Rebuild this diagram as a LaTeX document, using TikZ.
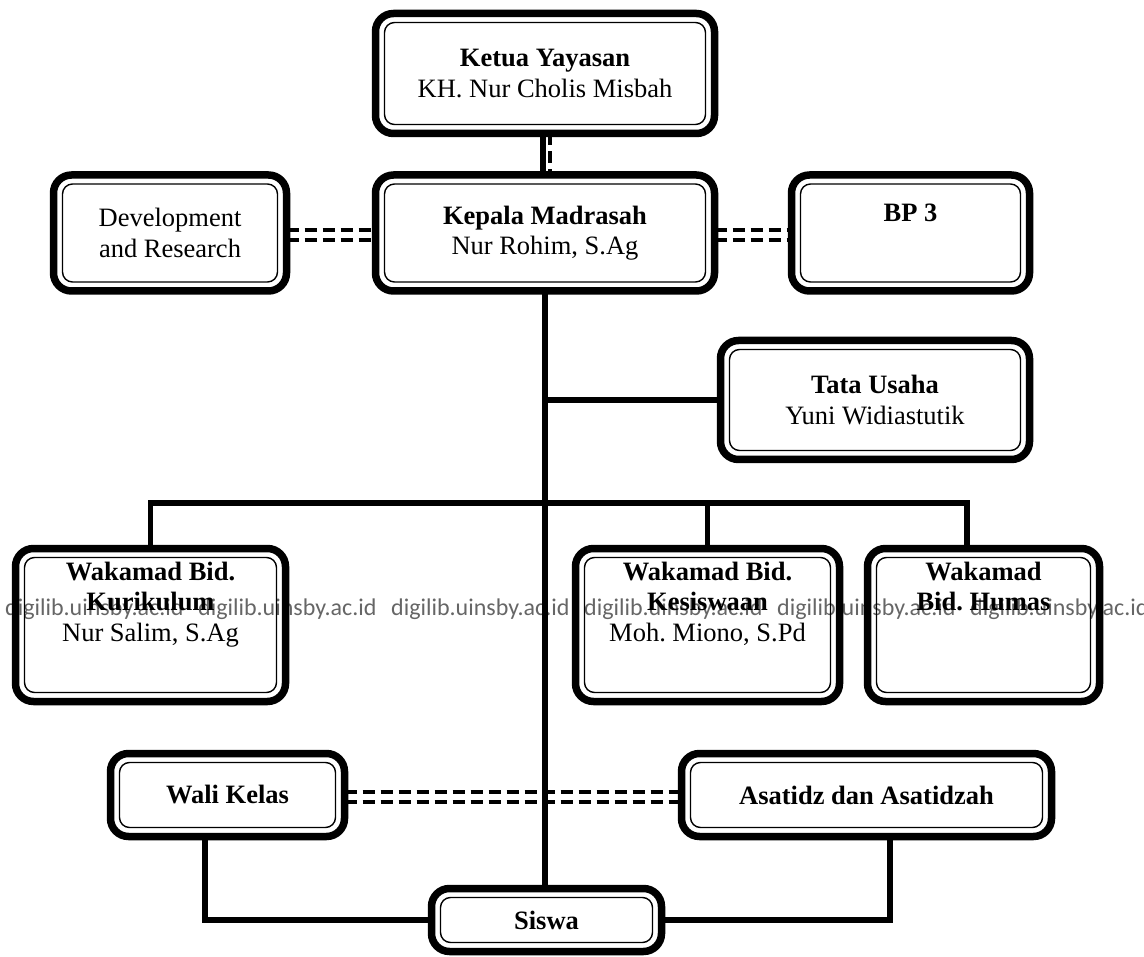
\documentclass[tikz,border=0pt]{standalone}
\usepackage{fontspec}
\setmainfont{Liberation Serif}
\newfontfamily\wmfont{Carlito}
\frenchspacing
\begin{document}
\begin{tikzpicture}[x=1pt,y={(0pt,-1pt)},
  box/.style={draw, line width=7.5pt, rounded corners=18pt, outer sep=0pt, inner sep=0pt,
    align=center, font=\fontsize{26.5}{30.5}\selectfont\frenchspacing},
  innerframe/.style={line width=1.4pt, rounded corners=10pt},
  conn/.style={line width=5.5pt},
  ddash/.style={line width=3.2pt, dash pattern=on 12pt off 6pt},
  wm/.style={anchor=base west, inner sep=0pt, text=black!60, font=\wmfont\fontsize{24}{24}\selectfont},
]
\useasboundingbox (0,0) rectangle (1144,957);

% watermark
\foreach \i in {0,...,5}{
  \node[wm] (wm\i) at ({5+193*\i},615) {digilib.uinsby.ac.id};
}

% boxes
\node[box, minimum width=339pt, minimum height=120pt] (ketua) at (545,73.5)
  {\textbf{Ketua Yayasan}\\KH. Nur Cholis Misbah};
\node[box, minimum width=339pt, minimum height=116pt] (kepala) at (545,233)
  {\textbf{Kepala Madrasah}\\Nur Rohim, S.Ag};
\node[box, minimum width=233pt, minimum height=116pt] (dev) at (170,233)
  {Development\\and Research};
\node[box, minimum width=238pt, minimum height=116pt] (bp) at (910.5,233)
  {\textbf{BP 3}\\\strut};
\node[box, minimum width=309pt, minimum height=119pt] (tata) at (875,400)
  {\textbf{Tata Usaha}\\Yuni Widiastutik};
\node[box, minimum width=270pt, minimum height=153pt] (kur) at (150.5,625)
  {\textbf{Wakamad Bid.}\\\textbf{Kurikulum}\\Nur Salim, S.Ag\\[7pt]\strut};
\node[box, minimum width=264pt, minimum height=153pt] (kes) at (707.5,625)
  {\textbf{Wakamad Bid.}\\\textbf{Kesiswaan}\\Moh. Miono, S.Pd\\[7pt]\strut};
\node[box, minimum width=232pt, minimum height=153pt] (hum) at (983.5,625)
  {\textbf{Wakamad}\\\textbf{Bid. Humas}\\\strut\\[7pt]\strut};
\node[box, minimum width=234pt, minimum height=83pt] (wali) at (227.5,795)
  {\textbf{Wali Kelas}};
\node[box, minimum width=370pt, minimum height=83pt] (asa) at (866.5,795)
  {\textbf{Asatidz dan Asatidzah}};
\node[box, minimum width=230pt, minimum height=63pt] (siswa) at (546.5,920)
  {\textbf{Siswa}};

% inner thin frames
\foreach \n in {ketua,kepala,dev,bp,tata,kur,kes,hum,wali,asa,siswa}{
  \draw[innerframe] ([xshift=9pt,yshift=-9pt]\n.north west) rectangle ([xshift=-9pt,yshift=9pt]\n.south east);
}

% helper coordinates
\coordinate (ya) at (0,230);
\coordinate (yb) at (0,240);
\coordinate (yw1) at (0,792);
\coordinate (yw2) at (0,802);
\coordinate (bus) at (0,503);
\coordinate (hx) at (967,0);
\coordinate (wx) at (205,0);
\coordinate (ax) at (890,0);

% connectors
\draw[conn] ([xshift=-2pt]ketua.south) -- ([xshift=-2pt]kepala.north);
\draw[ddash] ([xshift=5pt]ketua.south) -- ([xshift=5pt]kepala.north);

\draw[ddash] (dev.east |- ya) -- (kepala.west |- ya);
\draw[ddash] (dev.east |- yb) -- (kepala.west |- yb);
\draw[ddash] (kepala.east |- ya) -- (bp.west |- ya);
\draw[ddash] (kepala.east |- yb) -- (bp.west |- yb);

\draw[conn] (kepala.south) -- (kepala.south |- siswa.north);
\draw[conn] (kepala.south |- tata.west) -- (tata.west);

\draw[conn] (kur.north) -- (kur.north |- bus) -- (hx |- bus) -- (hx |- hum.north);
\draw[conn] (kes.north |- bus) -- (kes.north);

\draw[ddash] (wali.east |- yw1) -- (asa.west |- yw1);
\draw[ddash] (wali.east |- yw2) -- (asa.west |- yw2);

\draw[conn] (wx |- wali.south) |- (siswa.west);
\draw[conn] (ax |- asa.south) |- (siswa.east);
\end{tikzpicture}
\end{document}
